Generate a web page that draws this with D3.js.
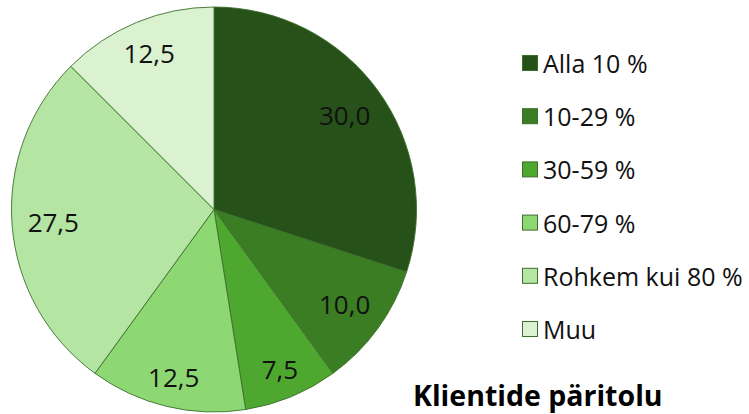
<!DOCTYPE html>
<html><head><meta charset="utf-8">
<script src="https://cdn.jsdelivr.net/npm/d3@7"></script>
<style>body{margin:0;background:#fff}svg{display:block}</style>
</head><body>
<svg id="c" width="749" height="414"></svg>
<script>
const categories = ["Alla 10 %", "10-29 %", "30-59 %", "60-79 %", "Rohkem kui 80 %", "Muu"];
const values = [30.0, 10.0, 7.5, 12.5, 27.5, 12.5];
const colors = ["#265219", "#3a7d22", "#4ea72e", "#8ed873", "#b4e5a2", "#daf2d0"];
const title = "Klientide päritolu";

const svg = d3.select("#c");
const cx = 214, cy = 209.5, R = 202.5;
const font = "'Open Sans', Lato, sans-serif";
const data = categories.map((c, i) => ({cat: c, value: values[i], color: colors[i]}));
const pie = d3.pie().value(d => d.value).sort(null);
const arcs = pie(data);
const arc = d3.arc().innerRadius(0).outerRadius(R);
const fmt = v => d3.format(".1f")(v).replace(".", ",");

const g = svg.append("g").attr("transform", `translate(${cx},${cy})`);
g.selectAll("path").data(arcs).join("path")
  .attr("d", arc).attr("fill", d => d.data.color)
  .attr("stroke", "#3d6e2c").attr("stroke-width", 0.9);

const fs = 26;
const labels = g.selectAll("text.lbl").data(arcs).join("text")
  .attr("class", "lbl")
  .attr("font-family", font).attr("font-size", fs)
  .attr("fill", "#111").attr("text-anchor", "middle")
  .attr("dominant-baseline", "central")
  .text(d => fmt(d.data.value));
labels.each(function(d) {
  const w = this.getComputedTextLength();
  const h = 18;
  const a = (d.startAngle + d.endAngle) / 2;
  const s = Math.sin(a), c = -Math.cos(a);
  const ext = Math.abs(w / 2 * s) + Math.abs(h / 2 * c);
  const r = R - 15 - ext;
  d3.select(this).attr("x", r * s).attr("y", r * c);
});

const leg = svg.append("g");
const ly = d3.scalePoint().domain(categories).range([63, 329]);
const rows = leg.selectAll("g").data(data).join("g")
  .attr("transform", d => `translate(522,${ly(d.cat)})`);
rows.append("rect").attr("x", 0.5).attr("y", -7.5).attr("width", 15).attr("height", 15)
  .attr("fill", d => d.color).attr("stroke", "#3d6e2c").attr("stroke-width", 1);
rows.append("text").attr("x", 21).attr("y", 0).attr("dominant-baseline", "central")
  .attr("font-family", font).attr("font-size", 25).attr("fill", "#111")
  .text(d => d.cat);

svg.append("text").attr("x", 413).attr("y", 406)
  .attr("font-family", font).attr("font-size", 28.5).attr("font-weight", "bold")
  .attr("fill", "#000").text(title);
</script>
</body></html>
